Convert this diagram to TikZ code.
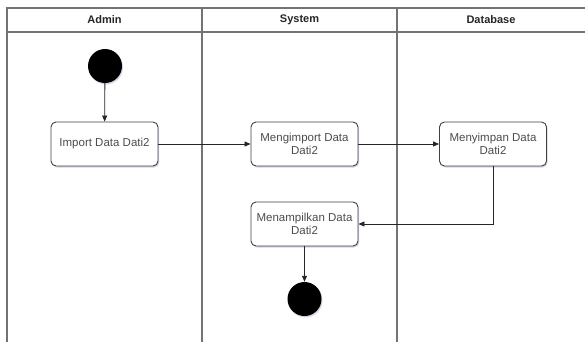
\documentclass[tikz,border=0pt]{standalone}
\usepackage{fontspec}
\setmainfont{Liberation Sans}
\usetikzlibrary{arrows.meta,shadows}
\begin{document}
\begin{tikzpicture}[x=1pt,y=-1pt,
  act/.style={draw=black!75, line width=0.9pt, rounded corners=5pt, fill=white,
    minimum width=107pt, minimum height=44pt, align=center, inner sep=1pt,
    font=\fontsize{11.5}{13.5}\selectfont, text=black!70,
    drop shadow={shadow xshift=1.2pt, shadow yshift=-1.5pt, opacity=0.25, fill=blue!30!gray}},
  dot/.style={circle, fill=black, minimum size=34pt, inner sep=0pt,
    drop shadow={shadow xshift=1pt, shadow yshift=-1.5pt, opacity=0.25, fill=blue!30!gray}},
  lane/.style={draw=black!55, line width=1.1pt},
  hdr/.style={font=\fontsize{11}{13}\selectfont\bfseries, text=black!85},
  flow/.style={draw=black!85, line width=0.8pt, -{Triangle[length=6pt,width=5pt]}}]
\useasboundingbox (0,0) rectangle (585,342);
\fill[white] (0,0) rectangle (585,342);
% lanes
\draw[lane] (7,342) -- (7,8) -- (585,8);
\draw[lane] (7,32) -- (585,32);
\draw[lane] (202,8) -- (202,342);
\draw[lane] (397,8) -- (397,342);
\node[hdr] (hA) at (104.5,20) {Admin};
\node[hdr] (hS) at (299.5,20) {System};
\node[hdr] (hD) at (491,20) {Database};
% nodes
\node[dot] (start) at (105,66) {};
\node[act] (imp) at (104.5,144) {Import Data Dati2};
\node[act] (meng) at (304.5,144) {Mengimport Data\\Dati2};
\node[act] (simp) at (493,144) {Menyimpan Data\\Dati2};
\node[act] (tamp) at (304.5,224) {Menampilkan Data\\Dati2};
\node[dot] (end) at (304.5,299) {};
% flows
\draw[flow] (start) -- (imp);
\draw[flow] (imp) -- (meng);
\draw[flow] (meng) -- (simp);
\draw[flow] (simp.south) |- (tamp.east);
\draw[flow] (tamp) -- (end);
\end{tikzpicture}
\end{document}
